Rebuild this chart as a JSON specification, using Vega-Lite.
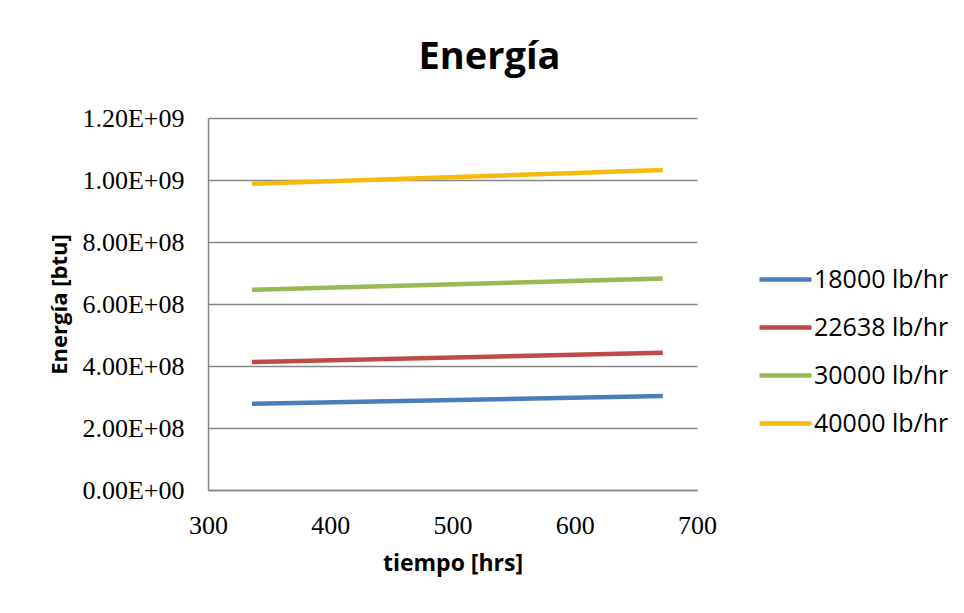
{
  "$schema": "https://vega.github.io/schema/vega-lite/v6.json",
  "width": 489,
  "height": 372,
  "autosize": "none",
  "padding": {"left": 208, "top": 118, "right": 267, "bottom": 123},
  "background": "white",
  "title": {"text": "Energía", "font": "Open Sans", "fontSize": 38, "fontWeight": "bold", "color": "#000000", "anchor": "middle", "dx": 37, "offset": 28},
  "data": {
    "values": [
      {"serie": "18000 lb/hr", "tiempo": 336, "energia": 278000000},
      {"serie": "18000 lb/hr", "tiempo": 672, "energia": 303000000},
      {"serie": "22638 lb/hr", "tiempo": 336, "energia": 413000000},
      {"serie": "22638 lb/hr", "tiempo": 672, "energia": 443000000},
      {"serie": "30000 lb/hr", "tiempo": 336, "energia": 646000000},
      {"serie": "30000 lb/hr", "tiempo": 672, "energia": 682000000},
      {"serie": "40000 lb/hr", "tiempo": 336, "energia": 988000000},
      {"serie": "40000 lb/hr", "tiempo": 672, "energia": 1032000000}
    ]
  },
  "mark": {"type": "line", "strokeWidth": 4.5, "strokeCap": "butt"},
  "encoding": {
    "x": {
      "field": "tiempo",
      "type": "quantitative",
      "scale": {"domain": [300, 700], "nice": false, "zero": false},
      "axis": {
        "values": [300, 400, 500, 600, 700],
        "title": "tiempo [hrs]",
        "grid": false,
        "ticks": false,
        "tickSize": 0,
        "domainColor": "#868686",
        "domainWidth": 1.5,
        "labelFont": "Liberation Serif",
        "labelFontSize": 26,
        "labelColor": "#000000",
        "labelPadding": 22,
        "labelFlush": false,
        "titleFont": "Open Sans",
        "titleFontSize": 23,
        "titleFontWeight": "bold",
        "titleColor": "#000000",
        "titlePadding": 14
      }
    },
    "y": {
      "field": "energia",
      "type": "quantitative",
      "scale": {"domain": [0, 1200000000], "nice": false},
      "axis": {
        "values": [0, 200000000, 400000000, 600000000, 800000000, 1000000000, 1200000000],
        "labelExpr": "replace(format(datum.value, '.2e'), 'e+', 'E+0')",
        "title": "Energía [btu]",
        "grid": true,
        "gridColor": "#868686",
        "gridWidth": 1.5,
        "ticks": false,
        "tickSize": 0,
        "domainColor": "#868686",
        "domainWidth": 1.5,
        "labelFont": "Liberation Serif",
        "labelFontSize": 26,
        "labelColor": "#000000",
        "labelPadding": 24,
        "labelFlush": false,
        "titleFont": "Open Sans",
        "titleFontSize": 22,
        "titleFontWeight": "bold",
        "titleColor": "#000000",
        "titlePadding": 10
      }
    },
    "color": {
      "field": "serie",
      "type": "nominal",
      "scale": {
        "domain": ["18000 lb/hr", "22638 lb/hr", "30000 lb/hr", "40000 lb/hr"],
        "range": ["#4A7EBB", "#BE4B48", "#98B954", "#F5B90F"]
      },
      "legend": {
        "title": null,
        "orient": "none",
        "legendX": 549,
        "legendY": 133,
        "symbolType": "stroke",
        "symbolSize": 2704,
        "symbolStrokeWidth": 4.5,
        "labelFont": "Open Sans",
        "labelFontSize": 25,
        "labelColor": "#000000",
        "labelOffset": 0,
        "rowPadding": 6
      }
    }
  },
  "config": {"view": {"stroke": null}}
}
